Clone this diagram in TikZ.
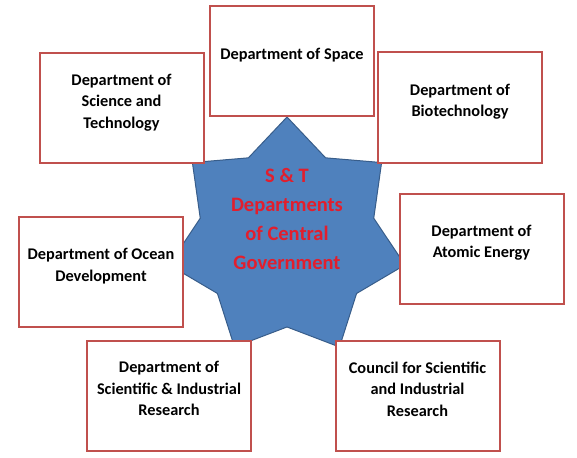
\documentclass[tikz,border=0pt]{standalone}
\usepackage{fontspec}
\setmainfont{Carlito}
\usepackage{xcolor}
\usetikzlibrary{shapes.geometric,positioning,calc}

\definecolor{starblue}{RGB}{79,129,189}
\definecolor{staredge}{RGB}{56,93,138}
\definecolor{boxred}{RGB}{192,80,77}
\definecolor{hubred}{RGB}{226,30,45}

\begin{document}
\begin{tikzpicture}[
  x=1pt, y=1pt,
  dept/.style={rectangle, draw=boxred, line width=2pt, fill=white,
    minimum width=164pt, minimum height=110pt, inner sep=0pt, align=center,
    font=\fontsize{16.3}{21.5}\selectfont\bfseries,
    execute at end node={\rule[-14pt]{0pt}{14pt}}},
  hub/.style={star, star points=7, star point ratio=1.36, draw=staredge,
    line width=1pt, fill=starblue, minimum size=242pt, inner sep=0pt},
  hubtext/.style={text=hubred, align=center,
    font=\fontsize{20.5}{29}\selectfont\bfseries},
]
  \useasboundingbox (0,0) rectangle (577,-457);

  % the star in the middle
  \node[hub] (hub) at (287,-238) {};
  \node[hubtext] (hublabel) at ([yshift=19pt]hub.center) {S \& T\\Departments\\of Central\\Government};

  % departments round it
  \node[dept] (space) at (292,-61) {Department of Space};
  \node[dept] (biotech) at (460,-107.5) {Department of\\Biotechnology};
  \node[dept] (scitech) at (121.5,-108) {Department of\\Science and\\Technology};
  \node[dept] (ocean) at (101,-272) {Department of Ocean\\Development};
  \node[dept] (atomic) at (481.5,-248.5) {Department of\\Atomic Energy};
  \node[dept] (dsir) at (169,-395.5) {Department of\\Scientific \& Industrial\\Research};
  \node[dept] (csir) at (417.5,-396) {Council for Scientific\\and Industrial\\Research};
\end{tikzpicture}
\end{document}
